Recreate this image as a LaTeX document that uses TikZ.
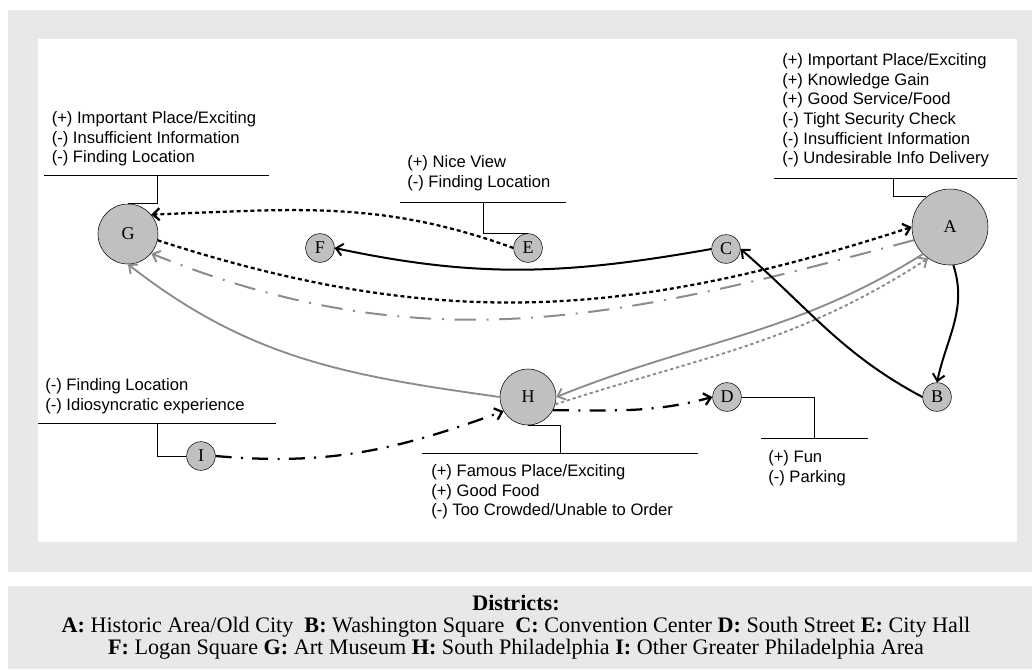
\documentclass[tikz,border=0pt]{standalone}
\usepackage{fontspec}
\setmainfont{Liberation Serif}
\newfontfamily\annfont{Liberation Sans}
\usepackage{tikz}
\usetikzlibrary{arrows.meta}
\usetikzlibrary{positioning}
\definecolor{panelgray}{HTML}{E8E8E8}
\definecolor{sitegray}{HTML}{C0C0C0}
\definecolor{flowgray}{HTML}{8C8C8C}
\tikzset{
    site/.style = {circle, draw=black, thin, align=center, fill=sitegray, inner sep=0pt, font=\fontsize{13.5}{15}\selectfont},
    bigsite/.style = {site, minimum size=45pt},
    smallsite/.style = {site, minimum size=21.5pt},
    note/.style = {anchor=north west, inner sep=0pt, align=left, font=\annfont\fontsize{12.45}{14.8}\selectfont},
}
\begin{document}
\begin{tikzpicture}[
	x=0.75pt, y=0.75pt,
	>={Straight Barb[length=5pt,width=9pt]}
]
\tikzset{
    edgeb/.style = {->, line width=1.5pt},
    edgek/.style = {->, line width=1.7pt, dash pattern=on 3pt off 2.2pt},
    edgebd/.style = {->, line width=1.7pt, dash pattern=on 12pt off 7pt on 1.5pt off 7pt},
    edgeg/.style = {->, line width=1.4pt, flowgray},
    edgegd/.style = {->, line width=1.5pt, flowgray, dash pattern=on 16pt off 8pt on 1.5pt off 8pt},
    edgegk/.style = {->, line width=1.4pt, flowgray, dash pattern=on 2.5pt off 2pt},
    rule/.style = {-, line width=0.6pt},
}
\fill[panelgray] (8,-10) rectangle (1032,-572);
\fill[white] (38,-39) rectangle (1017,-542);
\fill[panelgray] (8,-586) rectangle (1032,-669);
\useasboundingbox (0,0) rectangle (1032,-669);
%
\node[site, minimum size=57pt] at (950,-227) (a) {A};
\node[smallsite] at (937,-397) (b) {B};
\node[smallsite] at (726,-249) (c) {C};
\node[smallsite] at (727,-397) (d) {D};
\node[smallsite] at (528,-248) (e) {E};
\node[smallsite] at (320,-248) (f) {F};
\node[bigsite] at (128,-234) (g) {G};
\node[site, minimum size=42pt] at (528,-397) (h) {H};
\node[smallsite] at (201,-456) (i) {I};
%
\node[note] at (51.5,-111) (gtxt) {(+) Important Place/Exciting\\(-) Insufficient Information\\(-) Finding Location};
\node[note] at (407,-155) (etxt) {(+) Nice View\\(-) Finding Location};
\node[note] at (782,-53) (atxt) {(+) Important Place/Exciting\\(+) Knowledge Gain\\(+) Good Service/Food\\(-) Tight Security Check\\(-) Insufficient Information\\(-) Undesirable Info Delivery};
\node[note] at (45,-378) (itxt) {(-) Finding Location\\(-) Idiosyncratic experience};
\node[note] at (431,-464) (htxt) {(+) Famous Place/Exciting\\(+) Good Food\\(-) Too Crowded/Unable to Order};
\node[note] at (768,-450) (dtxt) {(+) Fun\\(-) Parking};
%
\coordinate (gT) at (157,-175);
\coordinate (eT) at (483,-202);
\coordinate (aT) at (893,-178);
\coordinate (iT) at (157,-423);
\coordinate (hT) at (560,-453);
\coordinate (dT) at (814,-438);
\draw[rule] (44,-175) -- (269,-175);
\draw[rule] (400,-202) -- (566,-202);
\draw[rule] (774,-178) -- (1017,-178);
\draw[rule] (38,-423) -- (276,-423);
\draw[rule] (422,-453) -- (698,-453);
\draw[rule] (761,-438) -- (868,-438);
\draw[rule] (g.north) -| (gT);
\draw[rule] (e.north) -| (eT);
\draw[rule] (a.128) -| (aT);
\draw[rule] (i.west) -| (iT);
\draw[rule] (h.south) -| (hT);
\draw[rule] (d.east) -| (dT);
%
\draw[edgek] (e.west) to[out=160, in=2] (g.40);
\draw[edgek] (g.-12) to[out=-18, in=198] (a.west);
\draw[edgegd] (a.200) to[out=195, in=-22] (g.-40);
\draw[edgeg] (h.west) to[out=172, in=-38] (g.south);
\draw[edgeg] (a.225) to[out=212, in=22] (h.east);
\draw[edgegk] (h.-15) to[out=18, in=213] (a.235);
%
\draw[edgeb] (c.west) to[out=190, in=-12] (f.east);
\draw[edgeb] (b.west) to[out=152, in=-41] (c.east);
\draw[edgeb] (a.-85) to[out=-72, in=78] (b.north);
\draw[edgebd] (i.east) to[out=-5, in=200] (h.210);
\draw[edgebd] (h.-28) to[out=0, in=195] (d.west);
%
\node[align=center, font=\fontsize{16.6}{16.5}\selectfont] at (516,-627) (legend) {\textbf{Districts:}\\
\textbf{A:} Historic Area/Old City\ \ \textbf{B:} Washington Square\ \ \textbf{C:} Convention Center \textbf{D:} South Street \textbf{E:} City Hall\\
\textbf{F:} Logan Square \textbf{G:} Art Museum \textbf{H:} South Philadelphia \textbf{I:} Other Greater Philadelphia Area};
\end{tikzpicture}
\end{document}
